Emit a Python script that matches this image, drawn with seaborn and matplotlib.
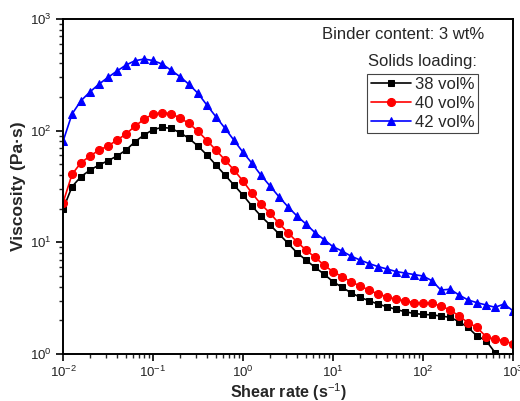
import numpy as np
import pandas as pd
import matplotlib
matplotlib.use("Agg")
import matplotlib.pyplot as plt
import seaborn as sns

# shear rate, 10 points per decade
shear_rate = [0.01, 0.0126, 0.0158, 0.02, 0.0251, 0.0316, 0.0398, 0.0501, 0.0631, 0.0794,
              0.1, 0.126, 0.158, 0.2, 0.251, 0.316, 0.398, 0.501, 0.631, 0.794,
              1.0, 1.26, 1.58, 2.0, 2.51, 3.16, 3.98, 5.01, 6.31, 7.94,
              10.0, 12.6, 15.8, 20.0, 25.1, 31.6, 39.8, 50.1, 63.1, 79.4,
              100.0, 126.0, 158.0, 200.0, 251.0, 316.0, 398.0, 501.0, 631.0, 794.0,
              1000.0]

visc_38 = [19.7, 31.5, 38.7, 44.4, 49.2, 53.8, 59.3, 67.0, 79.6, 91.4,
           102, 107, 105, 95.8, 85.3, 72.8, 60.5, 49.2, 40.0, 32.6,
           26.5, 21.1, 17.2, 14.3, 11.9, 9.8, 8.07, 6.94, 5.97, 5.2,
           4.44, 3.96, 3.54, 3.22, 3.0, 2.8, 2.65, 2.51, 2.39, 2.31,
           2.26, 2.24, 2.19, 2.13, 1.95, 1.73, 1.45, 1.32, 1.03, 0.96,
           0.95]

visc_40 = [22.6, 40.6, 51.6, 59.3, 67.0, 72.8, 82.4, 93.2, 110, 126,
           141, 145, 142, 130, 116, 99, 81.5, 67.0, 54.6, 44.4,
           35.4, 27.5, 22.0, 18.2, 14.8, 12.2, 10.1, 8.53, 7.34, 6.26,
           5.46, 4.92, 4.44, 4.06, 3.74, 3.44, 3.26, 3.09, 3.0, 2.88,
           2.86, 2.84, 2.69, 2.48, 2.19, 1.91, 1.73, 1.43, 1.35, 1.32,
           1.23]

visc_42 = [80, 141, 185, 223, 261, 300, 342, 387, 423, 438,
           425, 395, 349, 304, 260, 216, 169, 133, 105, 82,
           64, 51, 40, 31.9, 25.6, 20.8, 17.2, 14.6, 12.2, 10.6,
           9.14, 8.36, 7.54, 6.94, 6.46, 6.07, 5.77, 5.48, 5.31, 5.15,
           4.99, 4.53, 3.74, 3.8, 3.38, 3.05, 2.88, 2.75, 2.62, 2.8,
           2.44]

labels = ["38 vol%", "40 vol%", "42 vol%"]

df = pd.DataFrame({
    "shear": shear_rate * 3,
    "visc": visc_38 + visc_40 + visc_42,
    "loading": [labels[0]] * 51 + [labels[1]] * 51 + [labels[2]] * 51,
})

sns.set_style("ticks")
plt.rcParams["font.family"] = ["Liberation Sans", "DejaVu Sans"]
plt.rcParams["mathtext.fontset"] = "custom"
plt.rcParams["mathtext.rm"] = "Liberation Sans"
plt.rcParams["mathtext.bf"] = "Liberation Sans:bold"

fig = plt.figure(figsize=(5.2, 4.01), dpi=100)
ax = fig.add_axes([63 / 520, 1 - 354 / 401, 450 / 520, 335 / 401])

colors = ["black", "red", "blue"]
markers = ["s", "o", "^"]
msizes = [5, 5.8, 6]
for lab, c, m, ms in zip(labels, colors, markers, msizes):
    sub = df[df["loading"] == lab]
    sns.lineplot(data=sub, x="shear", y="visc", ax=ax, color=c, marker=m,
                 markersize=ms, markeredgecolor=c, linewidth=1.2, label=lab,
                 clip_on=True)

ax.set_xscale("log")
ax.set_yscale("log")
ax.set_xlim(0.01, 1000)
ax.set_ylim(1, 1000)

for s in ax.spines.values():
    s.set_linewidth(1.4)
    s.set_color("black")
ax.tick_params(which="major", direction="out", length=5, width=1.2, pad=3,
               labelsize=9.5, colors="black", labelcolor="#222222")
ax.tick_params(which="minor", direction="out", length=3, width=1.0)

ax.set_xlabel("Shear rate (s$^{-1}$)", fontsize=11.5, fontweight="bold", labelpad=1)
ax.set_ylabel("Viscosity (Pa\u00b7s)", fontsize=12.5, fontweight="bold", labelpad=3)

ax.text(0.936, 0.955, "Binder content: 3 wt%", transform=ax.transAxes,
        ha="right", va="center", fontsize=12)
ax.text(0.92, 0.872, "Solids loading:", transform=ax.transAxes,
        ha="right", va="center", fontsize=12)

leg = ax.legend(loc="upper right", bbox_to_anchor=(0.922, 0.836), borderaxespad=0,
                fontsize=12, handlelength=2.4, handletextpad=0.25, labelspacing=0.22,
                borderpad=0.2, fancybox=False, framealpha=1, edgecolor="#444444")
leg.get_frame().set_linewidth(0.8)

fig.savefig("out.png", dpi=100)
